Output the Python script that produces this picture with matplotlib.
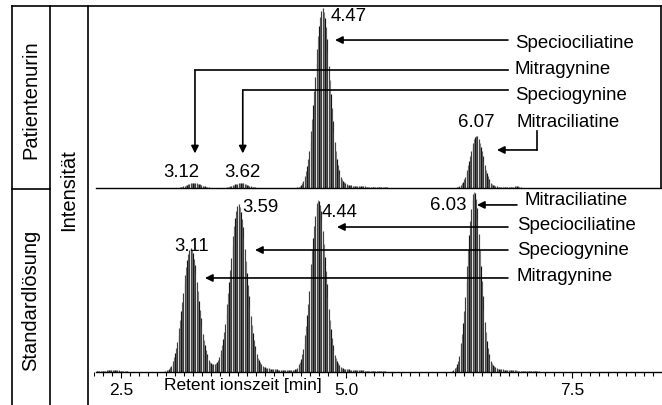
import numpy as np
import matplotlib
matplotlib.use('Agg')
import matplotlib.pyplot as plt
from matplotlib.lines import Line2D
from matplotlib.ticker import MultipleLocator, FixedLocator

plt.rcParams['font.family'] = ['Liberation Sans', 'DejaVu Sans']

# retention times, heights in % of panel
top_rt = [3.30, 3.82, 4.73, 6.44, 6.89]
top_height = [2.8, 2.6, 97, 28, 1.0]
top_width = [0.075, 0.075, 0.083, 0.072, 0.02]
top_tail = [0.3, 0.3, 4.0, 1.5, 0.0]
top_labels = ['3.12', '3.62', '4.47', '6.07']

bot_rt = [2.40, 3.265, 3.797, 4.684, 6.413]
bot_height = [1.0, 65, 88, 91, 96]
bot_width = [0.12, 0.088, 0.092, 0.083, 0.075]
bot_tail = [0.0, 5.0, 5.0, 4.0, 4.0]
bot_labels = ['3.11', '3.59', '4.44', '6.03']

compounds = ['Speciociliatine', 'Mitragynine', 'Speciogynine', 'Mitraciliatine']
bot_order = ['Mitraciliatine', 'Speciociliatine', 'Speciogynine', 'Mitragynine']

W, H = 662, 406
T0, T1 = 2.134, 8.487


def trace(t, rts, heights, widths, tails, tau=0.3):
    y = np.zeros_like(t)
    for rt, h, w, a in zip(rts, heights, widths, tails):
        y += h * np.exp(-0.5 * ((t - rt) / w) ** 2)
        on = 1 / (1 + np.exp(-(t - rt) / (w / 3)))
        y += a * on * np.exp(-np.clip(t - rt, 0, None) / tau)
    return y


def hatch(ax, y, t):
    cyc = np.array(['#111111', '#5a5a5a', '#2a2a2a', '#eeeeee', '#444444', '#7a7a7a'])
    cols = cyc[np.arange(len(t)) % len(cyc)]
    m = y > 0.35
    ax.vlines(t[m], 0, y[m], colors=cols[m], lw=0.85, zorder=2)


def fx(x):
    return x / W


def fy(y):
    return 1 - y / H


fig = plt.figure(figsize=(W / 100, H / 100), dpi=100)

ax_top = fig.add_axes([fx(88), fy(189), fx(661) - fx(88), fy(7) - fy(189)])
ax_bot = fig.add_axes([fx(88), fy(373), fx(661) - fx(88), fy(189) - fy(373)])

t = np.arange(2.23, 8.45, 0.0111)

for ax in (ax_top, ax_bot):
    ax.set_xlim(T0, T1)
    ax.set_ylim(0, 100)
    ax.patch.set_alpha(0)
    for s in ax.spines.values():
        s.set_visible(False)
    ax.spines['bottom'].set_visible(True)
    ax.spines['bottom'].set_bounds(2.223, T1)
    ax.spines['bottom'].set_linewidth(1.0)
    ax.set_yticks([])

ax_top.set_xticks([])
ax_top.spines['right'].set_visible(True)
ax_top.spines['right'].set_linewidth(1.2)

hatch(ax_top, trace(t, top_rt, top_height, top_width, top_tail), t)
hatch(ax_bot, trace(t, bot_rt, bot_height, bot_width, bot_tail), t)

# x axis of the lower panel
ax_bot.xaxis.set_major_locator(FixedLocator([2.5, 5.0, 7.5]))
ax_bot.xaxis.set_minor_locator(MultipleLocator(0.1))
ax_bot.xaxis.set_major_formatter(plt.FuncFormatter(lambda v, p: f'{v:.1f}'))
ax_bot.tick_params(axis='x', which='major', length=4, width=0.8, pad=3, labelsize=12.5)
ax_bot.tick_params(axis='x', which='minor', length=3, width=0.8)
ax_bot.annotate('Retent ionszeit [min]', xy=(3.853, 0), xycoords=('data', 'axes fraction'),
                xytext=(0, -13), textcoords='offset pixels', ha='center', va='center', fontsize=12.5)

FS = 13.4
ak = dict(arrowstyle='-|>', color='black', lw=1.2, mutation_scale=11, shrinkA=0, shrinkB=0)

# upper panel: Patientenurin
ax_top.text(4.828, 95.0, top_labels[2], fontsize=FS, va='center', ha='left')
ax_top.text(top_rt[0] - 0.13, 9.3, top_labels[0], fontsize=FS, va='center', ha='center')
ax_top.text(top_rt[1] + 0.03, 9.3, top_labels[1], fontsize=FS, va='center', ha='center')
ax_top.text(top_rt[3], 36.3, top_labels[3], fontsize=FS, va='center', ha='center')

ax_top.annotate('', xy=(4.873, 81.3), xytext=(6.79, 81.3), arrowprops=ak)
ax_top.text(6.868, 79.7, compounds[0], fontsize=FS, va='center', ha='left')

ax_top.plot([6.79, top_rt[0] + 0.02], [64.8, 64.8], color='black', lw=1.2)
ax_top.annotate('', xy=(top_rt[0] + 0.02, 19.0), xytext=(top_rt[0] + 0.02, 64.8), arrowprops=ak)
ax_top.text(6.868, 65.4, compounds[1], fontsize=FS, va='center', ha='left')

ax_top.plot([6.79, top_rt[1] + 0.03], [53.8, 53.8], color='black', lw=1.2)
ax_top.annotate('', xy=(top_rt[1] + 0.03, 19.0), xytext=(top_rt[1] + 0.03, 53.8), arrowprops=ak)
ax_top.text(6.868, 51.1, compounds[2], fontsize=FS, va='center', ha='left')

ax_top.text(6.89, 36.3, compounds[3], fontsize=FS, va='center', ha='left')
ax_top.plot([7.112, 7.112], [31.3, 20.9], color='black', lw=1.2)
ax_top.annotate('', xy=(6.668, 20.9), xytext=(7.112, 20.9), arrowprops=ak)

# lower panel: Standardlösung
ax_bot.text(3.28, 69.0, bot_labels[0], fontsize=FS, va='center', ha='center')
ax_bot.text(3.841, 89.7, bot_labels[1], fontsize=FS, va='center', ha='left')
ax_bot.text(4.728, 87.0, bot_labels[2], fontsize=FS, va='center', ha='left')
ax_bot.text(6.336, 91.3, bot_labels[3], fontsize=FS, va='center', ha='right')

bot_text_y = [94.0, 79.9, 66.8, 52.7]
bot_arrow_y = [90.8, 78.8, 66.3, 51.1]
bot_tip = [6.447, 4.895, 3.986, 3.431]
bot_start = [6.89, 6.79, 6.79, 6.79]
bot_text_x = [6.979, 6.89, 6.89, 6.89]
for name, ty, ay, tip, x0, tx in zip(bot_order, bot_text_y, bot_arrow_y, bot_tip, bot_start, bot_text_x):
    ax_bot.annotate('', xy=(tip, ay), xytext=(x0, ay), arrowprops=ak)
    ax_bot.text(tx, ty, name, fontsize=FS, va='center', ha='left')

# table frame
lines = [
    ([12, 661], [7, 7]),
    ([12, 12], [7, 406]),
    ([50, 50], [7, 406]),
    ([88, 88], [7, 406]),
    ([12, 50], [190, 190]),
]
for xs, ys in lines:
    fig.add_artist(Line2D([fx(x) for x in xs], [fy(y) for y in ys], color='black', lw=1.2,
                          transform=fig.transFigure))

fig.text(fx(31), fy(100), 'Patientenurin', rotation=90, ha='center', va='center', fontsize=14.5)
fig.text(fx(31), fy(300), 'Standardlösung', rotation=90, ha='center', va='center', fontsize=14.5)
fig.text(fx(69), fy(190), 'Intensität', rotation=90, ha='center', va='center', fontsize=14.5)

fig.savefig('out.png', dpi=100)
